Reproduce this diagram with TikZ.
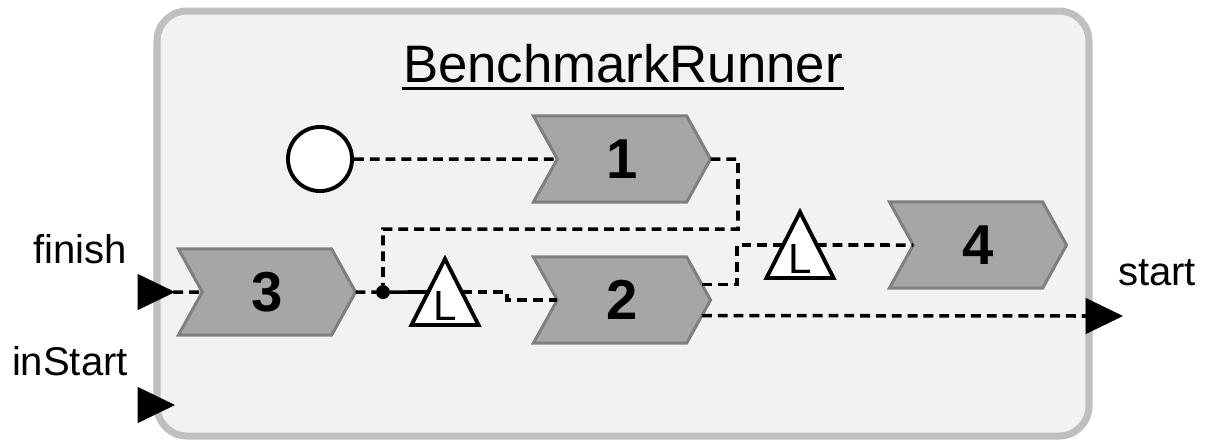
\documentclass[tikz,border=0pt]{standalone}
\usepackage{fontspec}
\setmainfont{Liberation Sans}
\usetikzlibrary{positioning}
\usetikzlibrary{shapes.symbols}
\usetikzlibrary{shapes.geometric}
\tikzstyle{canvas} = [x = 0.01cm, y = -0.01cm]
\definecolor{frameFill}{RGB}{242,242,242}
\definecolor{frameLine}{RGB}{191,191,191}
\definecolor{taskFill}{RGB}{166,166,166}
\definecolor{taskLine}{RGB}{127,127,127}
\tikzstyle{frameStyle} = [draw=frameLine, fill=frameFill, line width=2pt, rounded corners=0.3cm]
\tikzstyle{taskStyle} = [signal, signal from=west, signal to=east, signal pointer angle=122,
  draw=taskLine, fill=taskFill, line width=0.85pt, minimum width=1.77cm, minimum height=0.86cm,
  inner sep=0pt, outer sep=0pt, font=\fontsize{16}{16}\selectfont\bfseries]
\tikzstyle{latchStyle} = [isosceles triangle, shape border rotate=90, isosceles triangle stretches,
  draw=black, fill=white, line width=1.1pt, minimum width=0.67cm, minimum height=0.66cm,
  inner sep=0pt, outer sep=0pt, anchor=lower side, font=\fontsize{12}{12}\selectfont]
\tikzstyle{portStyle} = [isosceles triangle, isosceles triangle stretches, fill=black, draw=black,
  minimum width=0.34cm, minimum height=0.35cm, inner sep=0pt, outer sep=0pt]
\tikzstyle{initStyle} = [circle, draw=black, fill=white, line width=1.1pt, minimum size=0.64cm, inner sep=0pt]
\tikzstyle{forkStyle} = [circle, fill=black, minimum size=0.14cm, inner sep=0pt, outer sep=0pt]
\tikzstyle{wire} = [line width=1pt, dash pattern=on 2.8pt off 1.7pt]
\tikzstyle{portText} = [anchor=base, font=\fontsize{11.4}{12}\selectfont]
\tikzstyle{titleText} = [anchor=base, inner sep=0pt, font=\fontsize{15}{15}\selectfont]
\newcommand{\task}[3]{\node [taskStyle] (#1) at (#2) {#3};}
% a latch is placed by the middle of its base
\newcommand{\latch}[2]{\node [latchStyle] (#1) at (#2) {L};}
\newcommand{\port}[2]{\node [portStyle] (#1) at (#2) {};}

\begin{document}
\begin{tikzpicture}[canvas]
  \useasboundingbox (0,0) rectangle (1208,441);
  \draw [frameStyle] (157,11) rectangle (1089,436);

  \node [titleText] (title) at (623,82) {BenchmarkRunner};
  \draw [line width=0.85pt] ([yshift=-0.06cm]title.base west) -- ([yshift=-0.06cm]title.base east);

  % tasks
  \task{t1}{622,159}{1}
  \task{t2}{622,300}{2}
  \task{t3}{267,292}{3}
  \task{t4}{978,245}{4}
  \latch{l1}{445,325}
  \latch{l2}{800,278}
  \node [initStyle] (init) at (320,159) {};
  \node [forkStyle] (fork) at (383,292) {};

  % ports
  \port{finish}{149,292}
  \port{inStart}{149,405}
  \port{start}{1097,316}
  \node [portText] (finishText) at (80,263) {finish};
  \node [portText] (inStartText) at (70,375) {inStart};
  \node [portText] (startText) at (1157,285) {start};

  % wiring
  \draw [wire] (finish) -- (t3);
  \draw [wire] (t3) -- (fork);
  \draw [line width=1pt] (fork) -- (l1.left side);
  \draw [wire] (l1.right side) -- ++(45,0) |- (t2);
  \draw [wire] (init) -- (t1);
  \draw [wire] (t1) -- ++(116,0) -- ++(0,70) -| (fork);
  \draw [wire] (t2.11) -- ++(35,0) |- (l2.left side);
  \draw [wire] (l2.right side) -- (t4);
  \draw [wire] (t2.-11) -- (start);
\end{tikzpicture}
\end{document}
